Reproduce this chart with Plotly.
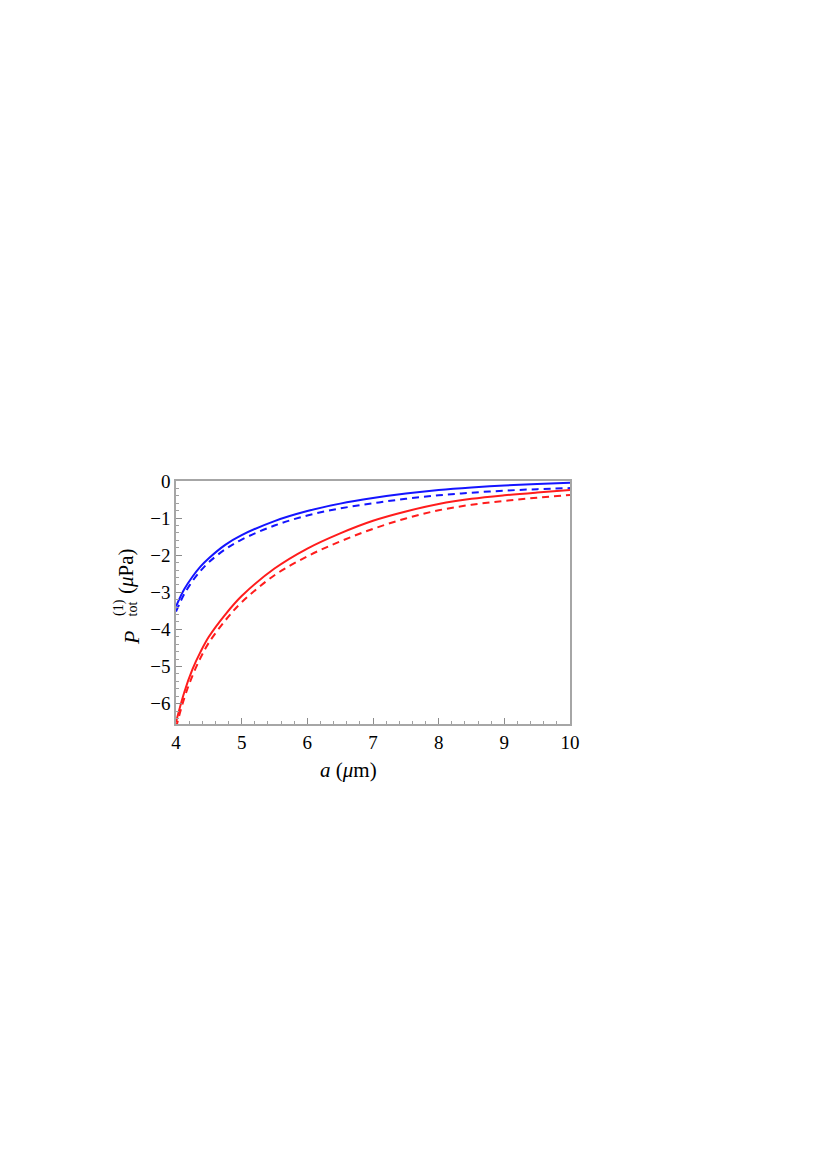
import plotly.graph_objects as go

a_vals = [4, 4.125, 4.25, 4.375, 4.5, 4.75, 5, 5.5, 6, 6.5, 7, 7.5, 8, 8.5, 9, 9.5, 10]

blue_solid = [-3.38, -2.92, -2.58, -2.30, -2.08, -1.72, -1.46, -1.08, -0.81, -0.61, -0.46, -0.34, -0.245, -0.175, -0.12, -0.08, -0.045]
blue_dashed = [-3.52, -3.05, -2.70, -2.42, -2.19, -1.84, -1.58, -1.20, -0.93, -0.74, -0.60, -0.48, -0.385, -0.315, -0.26, -0.22, -0.19]
red_solid = [-6.50, -5.70, -5.08, -4.60, -4.20, -3.60, -3.10, -2.36, -1.82, -1.41, -1.07, -0.82, -0.62, -0.48, -0.385, -0.31, -0.245]
red_dashed = [-6.65, -5.86, -5.25, -4.76, -4.36, -3.76, -3.27, -2.54, -2.03, -1.63, -1.29, -1.01, -0.79, -0.64, -0.535, -0.45, -0.375]

x_ticks = [4, 5, 6, 7, 8, 9, 10]
y_ticks = [0, -1, -2, -3, -4, -5, -6]

SERIF = "Liberation Serif"

fig = go.Figure()
series = [
    (blue_solid, "#1414ff", "solid"),
    (blue_dashed, "#1414ff", "7px,5px"),
    (red_solid, "#ff1c1c", "solid"),
    (red_dashed, "#ff1c1c", "7px,5px"),
]
for ys, col, dash in series:
    fig.add_trace(go.Scatter(x=a_vals, y=ys, mode="lines",
                             line=dict(color=col, width=2, dash=dash, shape="spline", smoothing=1.0),
                             showlegend=False, cliponaxis=True))

axis_common = dict(
    showgrid=False, zeroline=False, showline=True, linecolor="#a6a6a6", linewidth=1.5,
    mirror=True, ticks="inside", ticklen=6, tickwidth=1, tickcolor="#8c8c8c",
    tickfont=dict(family=SERIF, size=19, color="black"),
    minor=dict(ticks="inside", ticklen=3, tickcolor="#a0a0a0", dtick=0.2, showgrid=False),
)

fig.update_xaxes(range=[4, 10], tickvals=x_ticks, ticktext=[str(v) for v in x_ticks], **axis_common)
fig.update_yaxes(range=[-6.55, 0], tickvals=y_ticks, **axis_common)

# Plot area in page pixels: x 176..570, y 481..724 (page body has an 8px margin)
PLOT_L, PLOT_B = 176, 724

def pix_annot(text, px, py, size, angle=0):
    return dict(text=text, xref="paper", yref="paper", x=0, y=0,
                xshift=px - PLOT_L, yshift=PLOT_B - py,
                xanchor="center", yanchor="middle", showarrow=False,
                textangle=angle, font=dict(family=SERIF, size=size, color="black"))

annotations = [
    pix_annot("<i>a</i> (<i>μ</i>m)", 348, 770, 21),
    pix_annot("<i>P</i>", 131, 638, 22, -90),
    pix_annot("(1)", 119, 608, 14, -90),
    pix_annot("tot", 132, 609.5, 14, -90),
    pix_annot("(<i>μ</i>Pa)", 126, 571, 21, -90),
]

fig.update_layout(
    width=811, height=1154,
    margin=dict(l=168, r=249, t=473, b=438),
    paper_bgcolor="white", plot_bgcolor="white",
    annotations=annotations,
)

fig.write_html("out.html")
